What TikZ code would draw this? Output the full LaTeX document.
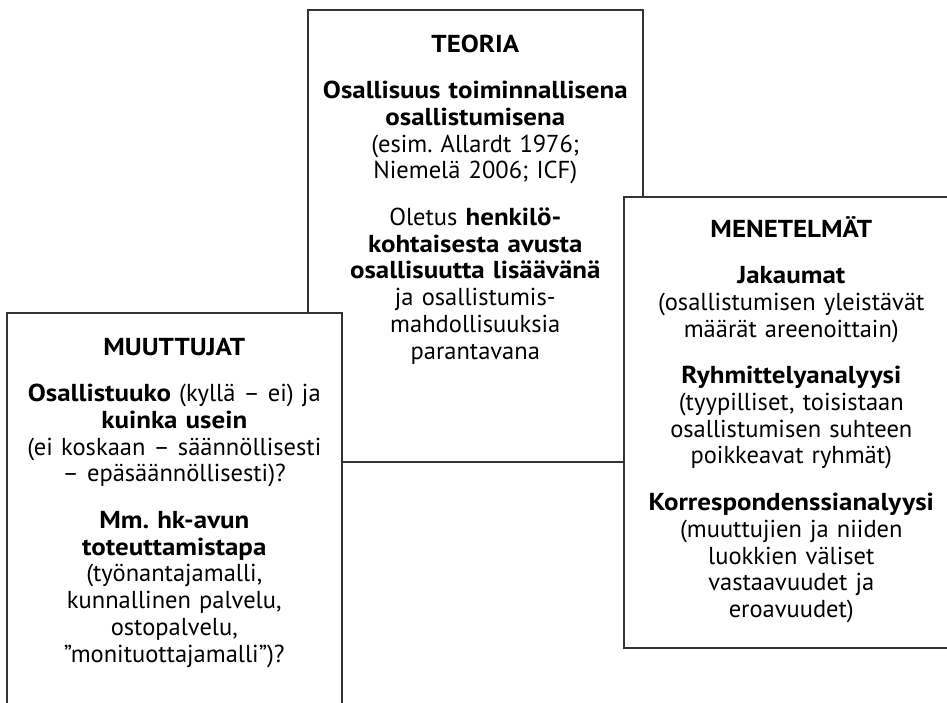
\documentclass[tikz,border=0pt]{standalone}
\usepackage{fontspec}
\setmainfont{PT Sans}[BoldFeatures={FakeStretch=1.1}]
\usetikzlibrary{positioning}
\newcommand{\gap}{\\[20pt]}
\frenchspacing

\begin{document}
\begin{tikzpicture}[x=1pt,y=-1pt,
  box/.style={draw=black!80,line width=1.6pt,fill=white,minimum width=335,anchor=north west,inner sep=0},
  txt/.style={anchor=base,align=center,text width=335,inner sep=0,font=\fontsize{24.5}{26.7}\selectfont}]
\useasboundingbox (0,0) rectangle (947,702);

\node[box,minimum height=452](teoria) at (307,9) {};
\node[txt](teoriatxt)[below=43pt of teoria.north,anchor=base]{%
\textbf{TEORIA}\gap
\textbf{Osallisuus toiminnallisena}\\ \textbf{osallistumisena}\\
(esim. Allardt 1976;\\ Niemelä 2006; ICF)\gap
Oletus \textbf{henkilö-}\\ \textbf{kohtaisesta avusta}\\ \textbf{osallisuutta lisäävänä}\\
ja osallistumis-\\ mahdollisuuksia\\ parantavana};

\node[box,minimum height=420](muuttujat) at (6,312) {};
\node[txt](muuttujattxt)[below=43pt of muuttujat.north,anchor=base]{%
\textbf{MUUTTUJAT}\gap
\textbf{Osallistuuko} (kyllä – ei) ja\\ \textbf{kuinka usein}\\
(ei koskaan – säännöllisesti\\ – epäsäännöllisesti)?\gap
\textbf{Mm. hk-avun}\\ \textbf{toteuttamistapa}\\ (työnantajamalli,\\
kunnallinen palvelu,\\ ostopalvelu,\\ ”monituottajamalli”)?};

\node[box,minimum height=451](menetelmat) at (623,196) {};
\node[txt](menetelmattxt)[below=41pt of menetelmat.north,anchor=base]{%
\textbf{MENETELMÄT}\gap
\textbf{Jakaumat}\\ (osallistumisen yleistävät\\ määrät areenoittain)\gap
\textbf{Ryhmittelyanalyysi}\\ (tyypilliset, toisistaan\\ osallistumisen suhteen\\
poikkeavat ryhmät)\gap
\textbf{Korrespondenssianalyysi}\\ (muuttujien ja niiden\\ luokkien väliset\\
vastaavuudet ja\\ eroavuudet)};
\end{tikzpicture}
\end{document}
